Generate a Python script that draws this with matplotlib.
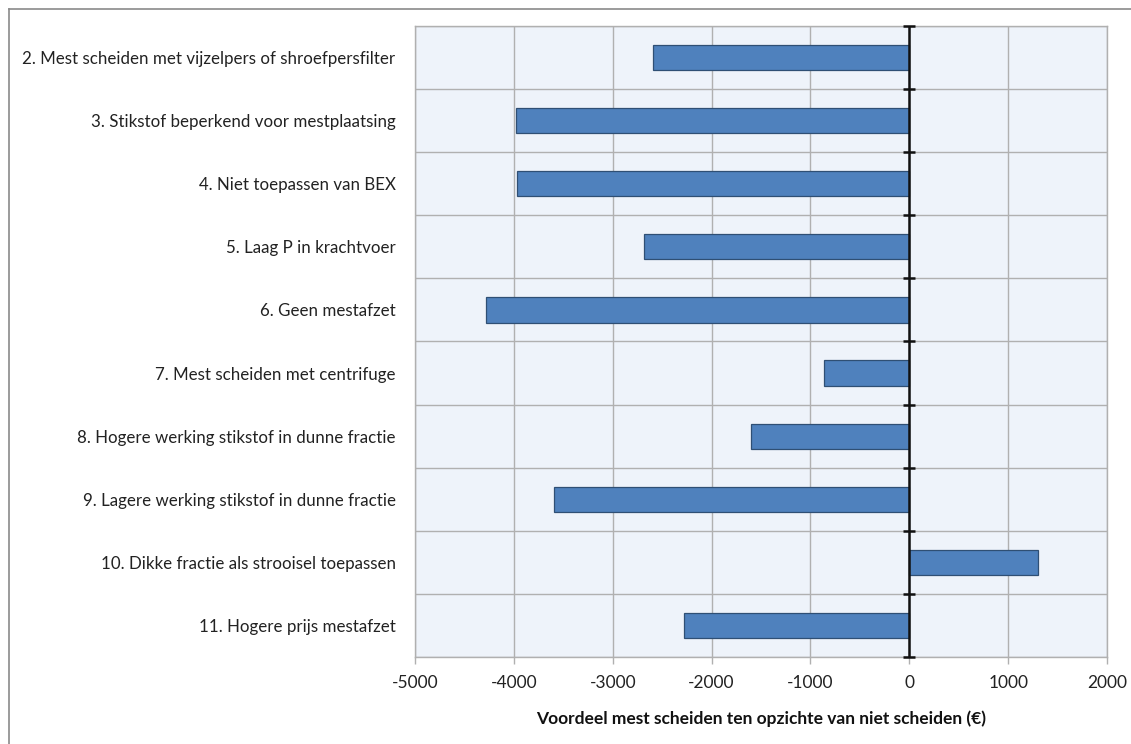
import matplotlib
matplotlib.use("Agg")
import matplotlib.pyplot as plt
from matplotlib.lines import Line2D

plt.rcParams['font.family'] = ['Lato', 'DejaVu Sans']

categories = [
    "2. Mest scheiden met vijzelpers of shroefpersfilter",
    "3. Stikstof beperkend voor mestplaatsing",
    "4. Niet toepassen van BEX",
    "5. Laag P in krachtvoer",
    "6. Geen mestafzet",
    "7. Mest scheiden met centrifuge",
    "8. Hogere werking stikstof in dunne fractie",
    "9. Lagere werking stikstof in dunne fractie",
    "10. Dikke fractie als strooisel toepassen",
    "11. Hogere prijs mestafzet",
]
values = [-2590, -3980, -3965, -2685, -4280, -860, -1600, -3590, 1300, -2280]
xticks = [-5000, -4000, -3000, -2000, -1000, 0, 1000, 2000]
xlabel = "Voordeel mest scheiden ten opzichte van niet scheiden (€)"

W, H = 1131, 744
fig = plt.figure(figsize=(W / 100, H / 100), dpi=100)

# outer chart frame
fig.add_artist(Line2D([8.5 / W, 8.5 / W], [0, 1 - 9 / H], color="#8a8a8a", lw=1.2))
fig.add_artist(Line2D([8.5 / W, 1], [1 - 9 / H, 1 - 9 / H], color="#8a8a8a", lw=1.2))

left, right, top, bottom = 415, 1107, 26, 657
ax = fig.add_axes([left / W, 1 - bottom / H, (right - left) / W, (bottom - top) / H])
ax.set_facecolor("#eef3fa")

n = len(categories)
ypos = list(range(n))
ax.barh(ypos, values, height=0.4, color="#4f81bd", edgecolor="#2f4f74", linewidth=0.9, zorder=3)

ax.set_xlim(-5000, 2000)
ax.set_ylim(n - 0.5, -0.5)
ax.set_xticks(xticks)
ax.set_xticklabels([str(v) for v in xticks], fontsize=12.5, color="#222222")
ax.set_yticks(ypos)
ax.set_yticklabels(categories, fontsize=12.2, color="#222222")
ax.tick_params(axis="y", length=0, pad=14)
ax.tick_params(axis="x", length=5, color="#b0b0b0", width=1, pad=8)

# vertical gridlines at value ticks, horizontal gridlines at category boundaries
for v in xticks:
    ax.axvline(v, color="#b0b0b0", lw=1, zorder=1)
for k in range(n + 1):
    ax.axhline(k - 0.5, color="#b0b0b0", lw=1, zorder=1)

# category axis drawn at zero with cross tick marks
ax.axvline(0, color="#111111", lw=1.8, zorder=4)
ax.plot([0] * (n + 1), [k - 0.5 for k in range(n + 1)], linestyle="none",
        marker="_", markersize=9, markeredgewidth=1.8, color="#111111", zorder=5, clip_on=False)

for s in ax.spines.values():
    s.set_color("#b0b0b0")
    s.set_linewidth(1)

ax.set_xlabel(xlabel, fontsize=12.5, fontweight="bold", labelpad=14, color="#111111")

fig.savefig("out.png", dpi=100)
